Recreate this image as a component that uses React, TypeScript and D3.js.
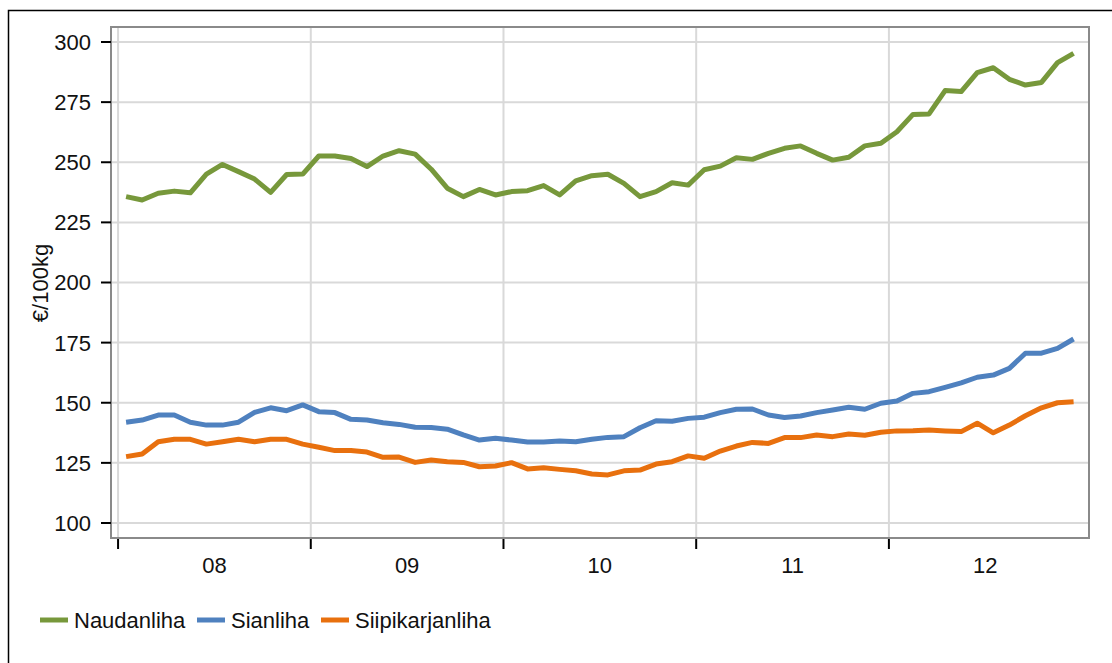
import React from "react";
import * as d3 from "d3";

const yearLabels = ["08", "09", "10", "11", "12"];
const yTicks = [100, 125, 150, 175, 200, 225, 250, 275, 300];
const seriesNames = ["Naudanliha", "Sianliha", "Siipikarjanliha"];
const seriesColors = ["#77983b", "#4f81bf", "#e8700e"];

const naudanliha = [235.7, 234.3, 237.1, 238.0, 237.3, 245.1, 249.1, 246.1, 243.0, 237.5, 244.9, 245.1,
  252.6, 252.6, 251.6, 248.2, 252.6, 254.8, 253.4, 247.1, 239.2, 235.7, 238.7, 236.4,
  237.8, 238.2, 240.3, 236.4, 242.3, 244.4, 245.0, 241.2, 235.7, 237.8, 241.5, 240.5,
  246.9, 248.4, 251.9, 251.2, 253.7, 255.8, 256.8, 253.7, 250.9, 252.1, 256.8, 257.9,
  262.7, 269.9, 270.1, 279.8, 279.4, 287.3, 289.3, 284.5, 282.1, 283.2, 291.4, 295.3];
const sianliha = [141.9, 142.8, 144.9, 144.9, 141.9, 140.7, 140.7, 141.9, 146.0, 147.9, 146.7, 149.1,
  146.3, 145.9, 143.1, 142.8, 141.7, 141.0, 139.8, 139.7, 139.0, 136.6, 134.5, 135.2,
  134.5, 133.7, 133.7, 134.1, 133.8, 134.8, 135.6, 135.9, 139.6, 142.5, 142.3, 143.5,
  144.0, 145.9, 147.3, 147.4, 144.9, 143.9, 144.5, 145.9, 147.0, 148.1, 147.3, 149.8,
  150.7, 153.9, 154.6, 156.4, 158.3, 160.6, 161.5, 164.3, 170.6, 170.6, 172.6, 176.5];
const siipikarjanliha = [127.6, 128.7, 133.8, 134.8, 134.8, 132.8, 133.8, 134.8, 133.8, 134.8, 134.8, 132.8,
  131.5, 130.1, 130.1, 129.5, 127.3, 127.4, 125.2, 126.2, 125.5, 125.2, 123.4, 123.7,
  125.1, 122.5, 123.0, 122.3, 121.7, 120.4, 120.0, 121.7, 122.0, 124.5, 125.5, 127.9,
  126.9, 129.9, 132.0, 133.5, 133.1, 135.5, 135.5, 136.6, 135.9, 137.0, 136.5, 137.7,
  138.3, 138.4, 138.7, 138.3, 138.0, 141.5, 137.5, 140.7, 144.6, 147.9, 150.0, 150.4];

const allSeries = [naudanliha, sianliha, siipikarjanliha];

const FONT = "Liberation Sans, Arial, Helvetica, sans-serif";

export default function App() {
  const W = 1112, H = 663;
  const left = 111, right = 1089, top = 27, bottom = 538;
  const x = d3.scaleLinear().domain([-0.44, 60.46]).range([left, right]);
  const y = d3.scaleLinear().domain([93.76, 306.24]).range([bottom, top]);
  const line = d3.line<number>().x((_, i) => x(i + 0.5)).y((d) => y(d));
  const yearStarts = yearLabels.map((_, i) => i * 12);
  const fs = 22;

  const legendX = [40, 197, 321];

  return (
    <svg width={W} height={H} style={{ position: "absolute", left: 0, top: 0 }} fontFamily={FONT}>
      <rect x={8.5} y={10.5} width={1110} height={660} fill="white" stroke="black" strokeWidth={1.5} />
      {/* gridlines */}
      {yTicks.map((t) => (
        <line key={"gy" + t} x1={left} x2={right} y1={y(t)} y2={y(t)} stroke="#d9d9d9" strokeWidth={2} />
      ))}
      {yearStarts.map((m) => (
        <line key={"gx" + m} x1={x(m)} x2={x(m)} y1={top} y2={bottom} stroke="#d9d9d9" strokeWidth={2} />
      ))}
      {/* frame */}
      <rect x={left} y={top} width={right - left} height={bottom - top} fill="none" stroke="#8a8a8a" strokeWidth={2} />
      {/* y ticks */}
      {yTicks.map((t) => (
        <g key={"ty" + t}>
          <line x1={101} x2={left} y1={y(t)} y2={y(t)} stroke="black" strokeWidth={2} />
          <text x={91} y={y(t)} dy="0.36em" textAnchor="end" fontSize={fs} fill="#111">{t}</text>
        </g>
      ))}
      {/* x ticks */}
      {yearStarts.map((m, i) => (
        <g key={"tx" + m}>
          <line x1={x(m)} x2={x(m)} y1={bottom + 1} y2={bottom + 11} stroke="black" strokeWidth={2} />
          <text x={x(m + 6)} y={573} textAnchor="middle" fontSize={fs} fill="#111">{yearLabels[i]}</text>
        </g>
      ))}
      <text transform={`translate(48,283) rotate(-90)`} textAnchor="middle" fontSize={fs} fill="#111">€/100kg</text>
      {/* lines */}
      {allSeries.map((s, k) => (
        <path key={"s" + k} d={line(s) || ""} fill="none" stroke={seriesColors[k]} strokeWidth={5} strokeLinejoin="round" />
      ))}
      {/* legend */}
      {seriesNames.map((n, k) => (
        <g key={"l" + k}>
          <line x1={legendX[k]} x2={legendX[k] + 28} y1={620} y2={620} stroke={seriesColors[k]} strokeWidth={5} />
          <text x={legendX[k] + 34} y={628} fontSize={fs} fill="#111">{n}</text>
        </g>
      ))}
    </svg>
  );
}
